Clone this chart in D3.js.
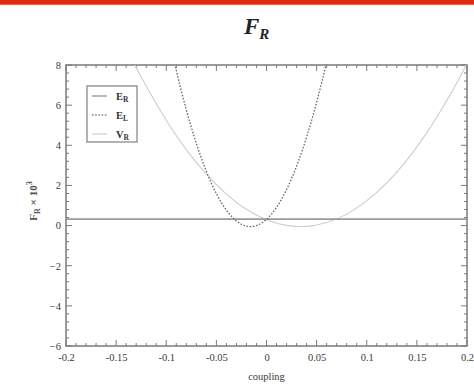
<!DOCTYPE html>
<html>
<head>
<meta charset="utf-8">
<script src="https://cdn.jsdelivr.net/npm/d3@7/dist/d3.min.js"></script>
<style>
  html, body { margin: 0; padding: 0; background: #fff; }
  svg { display: block; }
</style>
</head>
<body>
<svg id="chart" width="474" height="388"></svg>
<script>
// Coupling values and curves (F_R × 10^3)
const couplingEL = [-0.10, -0.09, -0.08, -0.07, -0.06, -0.05, -0.04, -0.03, -0.02, -0.01, 0.00, 0.01, 0.02, 0.03, 0.04, 0.05, 0.06, 0.07];
const valuesEL   = [10.1, 7.74, 5.77, 4.10, 2.70, 1.59, 0.77, 0.23, -0.03, 0.00, 0.31, 0.91, 1.79, 2.96, 4.41, 6.14, 8.16, 10.5];

const couplingER = [-0.2, 0.2];
const valuesER   = [0.32, 0.32];

const couplingVR = [-0.14, -0.13, -0.12, -0.10, -0.08, -0.06, -0.04, -0.02, 0.00, 0.02, 0.04, 0.06, 0.08, 0.10, 0.12, 0.14, 0.16, 0.18, 0.19, 0.20];
const valuesVR   = [8.9, 7.88, 6.95, 5.25, 3.78, 2.56, 1.57, 0.81, 0.29, 0.01, -0.04, 0.15, 0.57, 1.24, 2.13, 3.26, 4.63, 6.24, 7.13, 8.08];

const xTicks = [-0.2, -0.15, -0.1, -0.05, 0, 0.05, 0.1, 0.15, 0.2];
const xTickLabels = ["-0.2", "-0.15", "-0.1", "-0.05", "0", "0.05", "0.1", "0.15", "0.2"];
const yTicks = [-6, -4, -2, 0, 2, 4, 6, 8];

const legendNames = ["E", "E", "V"];
const legendSubs = ["R", "L", "R"];

const svg = d3.select("#chart");
const W = 474, H = 388;
const plot = { left: 66, right: 467, top: 65, bottom: 346 };

// Red band across the top edge
svg.append("rect").attr("x", 0).attr("y", 0).attr("width", W).attr("height", 5).attr("fill", "#e02a0e");
svg.append("rect").attr("x", 0).attr("y", 4).attr("width", W).attr("height", 1.2).attr("fill", "#ee8a78").attr("opacity", 0.6);

// Title
const title = svg.append("text")
  .attr("x", 244).attr("y", 34)
  .attr("font-family", "'Liberation Serif', 'DejaVu Serif', serif")
  .attr("font-style", "italic").attr("font-weight", "bold")
  .attr("font-size", 23).attr("fill", "#222");
title.append("tspan").text("F");
title.append("tspan").attr("dy", 5).attr("font-size", 15).text("R");

const x = d3.scaleLinear().domain([-0.2, 0.2]).range([plot.left, plot.right]);
const y = d3.scaleLinear().domain([-6, 8]).range([plot.bottom, plot.top]);

const frameColor = "#7a7a7a";
const textColor = "#3a3a3a";
const serif = "'Liberation Serif', 'DejaVu Serif', serif";

// Clip region for curves
svg.append("defs").append("clipPath").attr("id", "plotClip")
  .append("rect").attr("x", plot.left).attr("y", plot.top)
  .attr("width", plot.right - plot.left).attr("height", plot.bottom - plot.top);

// Ticks on all four sides, pointing inward
const ticks = svg.append("g").attr("stroke", frameColor).attr("stroke-width", 1);
const xMinor = d3.range(-20, 21).map(d => d / 100);
xMinor.forEach(v => {
  const major = xTicks.some(t => Math.abs(t - v) < 1e-9);
  const len = major ? 6 : 3;
  ticks.append("line").attr("x1", x(v)).attr("x2", x(v)).attr("y1", plot.bottom).attr("y2", plot.bottom - len);
  ticks.append("line").attr("x1", x(v)).attr("x2", x(v)).attr("y1", plot.top).attr("y2", plot.top + len);
});
const yMinor = d3.range(-15, 21).map(d => d * 0.4);
yMinor.forEach(v => {
  const major = yTicks.some(t => Math.abs(t - v) < 1e-9);
  const len = major ? 6 : 3;
  ticks.append("line").attr("y1", y(v)).attr("y2", y(v)).attr("x1", plot.left).attr("x2", plot.left + len);
  ticks.append("line").attr("y1", y(v)).attr("y2", y(v)).attr("x1", plot.right).attr("x2", plot.right - len);
});

// Frame
svg.append("rect")
  .attr("x", plot.left).attr("y", plot.top)
  .attr("width", plot.right - plot.left).attr("height", plot.bottom - plot.top)
  .attr("fill", "none").attr("stroke", frameColor).attr("stroke-width", 1.5);

// Axis tick labels
const xAxis = d3.axisBottom(x).tickValues(xTicks).tickSize(0).tickPadding(8)
  .tickFormat((d, i) => xTickLabels[i]);
const gx = svg.append("g").attr("transform", `translate(0,${plot.bottom})`).call(xAxis);
gx.select(".domain").remove();
gx.selectAll("text").attr("font-family", serif).attr("font-size", 10.5).attr("fill", textColor);

const yAxis = d3.axisLeft(y).tickValues(yTicks).tickSize(0).tickPadding(5);
const gy = svg.append("g").attr("transform", `translate(${plot.left},0)`).call(yAxis);
gy.select(".domain").remove();
gy.selectAll("text").attr("font-family", serif).attr("font-size", 10.5).attr("fill", textColor);

// Axis titles
svg.append("text").attr("x", (plot.left + plot.right) / 2).attr("y", 380)
  .attr("text-anchor", "middle").attr("font-family", serif).attr("font-size", 10.5)
  .attr("fill", textColor).text("coupling");

const yl = svg.append("text")
  .attr("transform", `translate(37,201) rotate(-90)`)
  .attr("text-anchor", "middle").attr("font-family", serif).attr("font-size", 11)
  .attr("font-weight", "bold").attr("fill", "#555");
yl.append("tspan").text("F");
yl.append("tspan").attr("dy", 3).attr("font-size", 8).text("R");
yl.append("tspan").attr("dy", -3).text(" × 10");
yl.append("tspan").attr("dy", -5).attr("font-size", 8).text("3");

// Curves
const line = d3.line().x(d => x(d[0])).y(d => y(d[1])).curve(d3.curveCatmullRom);
const curves = svg.append("g").attr("clip-path", "url(#plotClip)");

curves.append("path")
  .datum(d3.zip(couplingVR, valuesVR))
  .attr("d", line).attr("fill", "none")
  .attr("stroke", "#cdcdcd").attr("stroke-width", 1.1);

curves.append("path")
  .datum(d3.zip(couplingER, valuesER))
  .attr("d", line).attr("fill", "none")
  .attr("stroke", "#9a9a9a").attr("stroke-width", 1.6);

curves.append("path")
  .datum(d3.zip(couplingEL, valuesEL))
  .attr("d", line).attr("fill", "none")
  .attr("stroke", "#6a6a6a").attr("stroke-width", 1.3)
  .attr("stroke-dasharray", "1.6,1.6");

// Legend
const lg = svg.append("g");
lg.append("rect").attr("x", 87).attr("y", 86).attr("width", 50).attr("height", 56)
  .attr("fill", "#fff").attr("stroke", "#8a8a8a").attr("stroke-width", 1.3);
const legendStyles = [
  { stroke: "#a8a8a8", width: 1.6, dash: null },
  { stroke: "#8a8a8a", width: 1.3, dash: "1.6,1.6" },
  { stroke: "#d0d0d0", width: 1.2, dash: null }
];
legendNames.forEach((name, i) => {
  const cy = 96 + i * 19;
  lg.append("line").attr("x1", 92).attr("x2", 107).attr("y1", cy).attr("y2", cy)
    .attr("stroke", legendStyles[i].stroke).attr("stroke-width", legendStyles[i].width)
    .attr("stroke-dasharray", legendStyles[i].dash);
  const t = lg.append("text").attr("x", 116).attr("y", cy + 3.5)
    .attr("font-family", serif).attr("font-weight", "bold").attr("font-size", 10.5)
    .attr("fill", "#333");
  t.append("tspan").text(name);
  t.append("tspan").attr("dy", 2.5).attr("font-size", 7.5).text(legendSubs[i]);
});
</script>
</body>
</html>
